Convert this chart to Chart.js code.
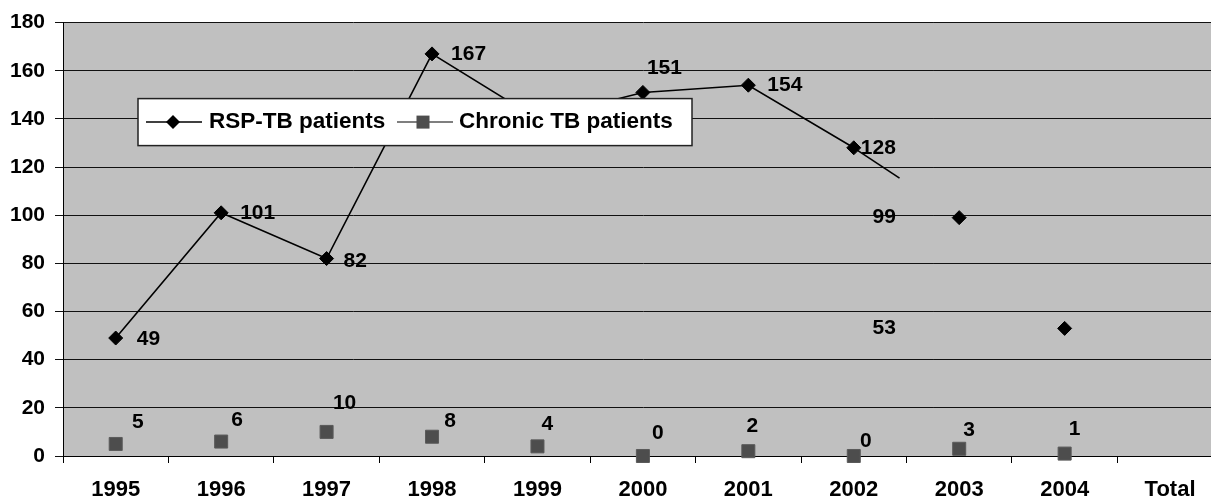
<!DOCTYPE html>
<html>
<head>
<meta charset="utf-8">
<script src="https://cdn.jsdelivr.net/npm/chart.js@4.4.1/dist/chart.umd.min.js"></script>
<style>
  html, body { margin: 0; padding: 0; background: #fff; overflow: hidden; }
  #wrap { width: 1233px; height: 502px; }
</style>
</head>
<body>
<div id="wrap"><canvas id="tbChart"></canvas></div>
<script>
const years = ['1995', '1996', '1997', '1998', '1999', '2000', '2001', '2002', '2003', '2004', 'Total'];
const rspPatients = [49, 101, 82, 167, 140, 151, 154, 128, 99, 53];
const chronicPatients = [5, 6, 10, 8, 4, 0, 2, 0, 3, 1];
const yTicks = [0, 20, 40, 60, 80, 100, 120, 140, 160, 180];

const FONT = '"Liberation Sans", Arial, sans-serif';

// label nudges (px): rsp = left edge offset / vertical offset, chronic = centre offset
const rspNudge = [[21, 1], [19, 0], [17, 3], [19, 0], [19, 0], [4, -24], [19, 0], [7, 0]];
const chronicNudge = [[22, -22], [16, -21], [18, -29], [18, -16], [10, -22], [15, -23], [4, -25], [12, -15], [10, -19], [10, -24]];

const plotBg = {
    id: 'plotBg',
    beforeDraw(chart) {
        const { ctx, chartArea: a } = chart;
        ctx.save();
        ctx.fillStyle = '#c0c0c0';
        ctx.fillRect(a.left, a.top, a.right - a.left, a.bottom - a.top);
        ctx.restore();
    }
};

const labelsAndLegend = {
    id: 'labelsAndLegend',
    afterDatasetsDraw(chart) {
        const { ctx, chartArea: a } = chart;
        ctx.save();
        ctx.font = 'bold 21px ' + FONT;
        ctx.fillStyle = '#000';
        ctx.textBaseline = 'middle';

        const rsp = chart.getDatasetMeta(0).data;
        // excel glitch: labels past 2002 are stacked under the 2002 label
        const lastRight = rsp[7].x + rspNudge[7][0] + ctx.measureText(String(rspPatients[7])).width;
        rsp.forEach((pt, i) => {
            const txt = String(rspPatients[i]);
            if (i < rspNudge.length) {
                ctx.textAlign = 'left';
                ctx.fillText(txt, pt.x + rspNudge[i][0], pt.y + rspNudge[i][1]);
            } else {
                ctx.textAlign = 'right';
                ctx.fillText(txt, lastRight, pt.y);
            }
        });

        ctx.textAlign = 'center';
        chart.getDatasetMeta(1).data.forEach((pt, i) => {
            ctx.fillText(String(chronicPatients[i]), pt.x + chronicNudge[i][0], pt.y + chronicNudge[i][1]);
        });

        // legend box inside the plot
        const x0 = a.left + 75, y0 = a.top + 76, w = 554, h = 47;
        const cy = y0 + h / 2;
        ctx.fillStyle = '#fff';
        ctx.fillRect(x0, y0, w, h);
        ctx.strokeStyle = '#222';
        ctx.lineWidth = 1.5;
        ctx.strokeRect(x0, y0, w, h);

        ctx.strokeStyle = '#000';
        ctx.lineWidth = 1.5;
        ctx.beginPath();
        ctx.moveTo(x0 + 8, cy);
        ctx.lineTo(x0 + 64, cy);
        ctx.stroke();
        ctx.fillStyle = '#000';
        ctx.beginPath();
        ctx.moveTo(x0 + 35, cy - 7);
        ctx.lineTo(x0 + 42, cy);
        ctx.lineTo(x0 + 35, cy + 7);
        ctx.lineTo(x0 + 28, cy);
        ctx.closePath();
        ctx.fill();

        ctx.strokeStyle = '#7f7f7f';
        ctx.lineWidth = 2;
        ctx.beginPath();
        ctx.moveTo(x0 + 259, cy);
        ctx.lineTo(x0 + 315, cy);
        ctx.stroke();
        ctx.fillStyle = '#4d4d4d';
        ctx.fillRect(x0 + 278.5, cy - 6.5, 13, 13);

        ctx.fillStyle = '#000';
        ctx.textAlign = 'left';
        ctx.font = 'bold 22.5px ' + FONT;
        ctx.fillText(chart.data.datasets[0].label, x0 + 71, cy);
        ctx.fillText(chart.data.datasets[1].label, x0 + 321, cy);
        ctx.restore();
    }
};

const ctx = document.getElementById('tbChart').getContext('2d');

new Chart(ctx, {
    type: 'line',
    data: {
        labels: years,
        datasets: [{
            label: 'RSP-TB patients',
            data: rspPatients,
            borderColor: '#000',
            borderWidth: 1.6,
            pointStyle: 'rectRot',
            pointRadius: 7,
            pointBackgroundColor: '#000',
            pointBorderColor: '#000',
            pointBorderWidth: 1,
            tension: 0,
            clip: false,
            segment: {
                // line after 2002 is cut short, nothing between 2003 and 2004
                borderDash: c => {
                    if (c.p0DataIndex !== 7) return undefined;
                    const len = Math.hypot(c.p1.x - c.p0.x, c.p1.y - c.p0.y);
                    return [len * 0.434, 3000];
                },
                borderColor: c => c.p0DataIndex === 8 ? 'rgba(0,0,0,0)' : undefined
            }
        }, {
            label: 'Chronic TB patients',
            data: chronicPatients,
            showLine: false,
            pointStyle: 'rect',
            pointRadius: 9.2,
            pointBackgroundColor: '#4d4d4d',
            pointBorderColor: '#5a5a5a',
            pointBorderWidth: 1,
            clip: false
        }]
    },
    options: {
        responsive: true,
        maintainAspectRatio: false,
        animation: false,
        layout: { padding: { top: 20, right: 3, left: 0, bottom: 0 } },
        plugins: {
            legend: { display: false },
            tooltip: { enabled: false }
        },
        scales: {
            x: {
                offset: true,
                afterFit: s => { s.height = 46; },
                grid: {
                    offset: true,
                    drawOnChartArea: false,
                    drawTicks: true,
                    tickLength: 7,
                    color: '#000'
                },
                border: { display: true, color: '#000', width: 1 },
                ticks: {
                    autoSkip: false,
                    maxRotation: 0,
                    padding: 14,
                    color: '#000',
                    font: { family: FONT, size: 22, weight: 'bold' }
                }
            },
            y: {
                min: 0,
                max: 180,
                afterFit: s => { s.width = 63; },
                afterBuildTicks: s => { s.ticks = yTicks.map(v => ({ value: v })); },
                grid: {
                    color: '#111',
                    lineWidth: 1,
                    drawTicks: true,
                    tickLength: 8
                },
                border: { display: true, color: '#000', width: 1 },
                ticks: {
                    padding: 10,
                    color: '#000',
                    font: { family: FONT, size: 21, weight: 'bold' }
                }
            }
        }
    },
    plugins: [plotBg, labelsAndLegend]
});
</script>
</body>
</html>
